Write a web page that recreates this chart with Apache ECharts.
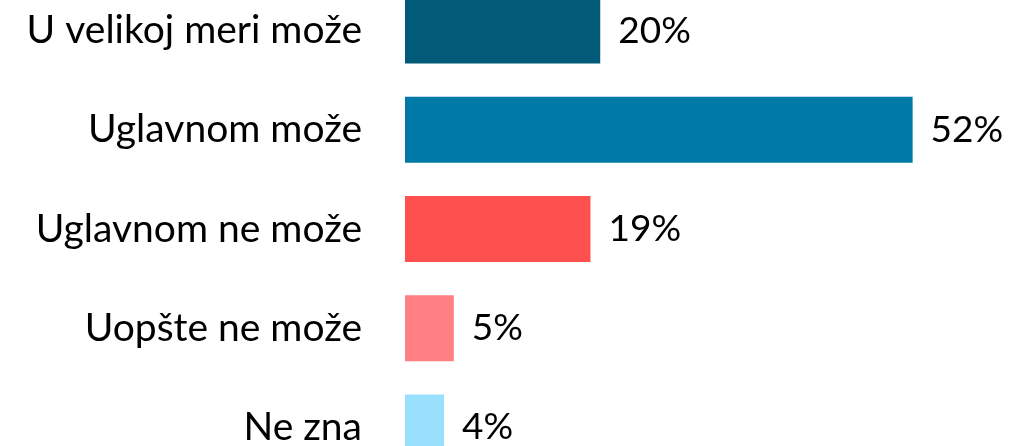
<!DOCTYPE html>
<html>
<head>
<meta charset="utf-8">
<script src="https://cdn.jsdelivr.net/npm/echarts@6/dist/echarts.min.js"></script>
<style>
  html, body { margin: 0; padding: 0; background: #fff; overflow: hidden; }
  /* plot runs past the top and bottom edges of the window, like the source */
  #chart { width: 1020px; height: 496px; margin-top: -19px; }
</style>
</head>
<body>
<div id="chart"></div>
<script>
const categories = ["U velikoj meri može", "Uglavnom može", "Uglavnom ne može", "Uopšte ne može", "Ne zna"];
const values = [20, 52, 19, 5, 4];
const colors = ["#005A78", "#0079A6", "#FF5050", "#FF7F83", "#99E0FF"];

const font = "Lato, 'Open Sans', sans-serif";
const chart = echarts.init(document.getElementById("chart"));
chart.setOption({
  backgroundColor: "#fff",
  animation: false,
  grid: { left: 405, right: 0, top: 0, bottom: 0, containLabel: false },
  xAxis: { type: "value", min: 0, max: 63, show: false },
  yAxis: {
    type: "category",
    inverse: true,
    data: categories,
    axisLine: { show: false },
    axisTick: { show: false },
    axisLabel: { color: "#000", fontSize: 39, fontFamily: font, margin: 43 }
  },
  series: [{
    type: "bar",
    barWidth: 66,
    data: values.map((v, i) => ({ value: v, itemStyle: { color: colors[i] } })),
    label: {
      show: true,
      position: "right",
      distance: 18,
      color: "#000",
      fontSize: 37,
      fontFamily: font,
      formatter: "{c}%"
    }
  }]
});
</script>
</body>
</html>
